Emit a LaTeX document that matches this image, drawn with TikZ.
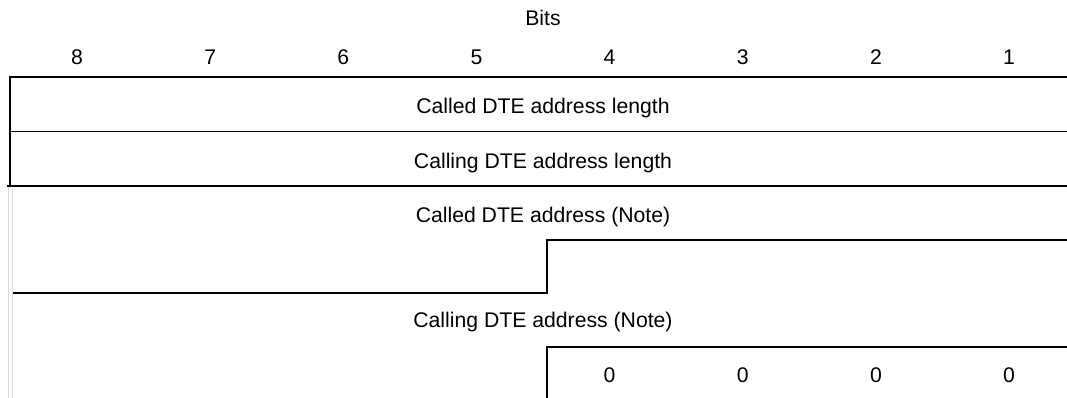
\documentclass[tikz,border=0pt]{standalone}
\usepackage{fontspec}
\setmainfont{Liberation Sans}
\tikzset{
  every node/.style = {
    inner sep = 0pt,
    outer sep = 0pt,
    anchor = base,
    font = \fontsize{21.2}{25}\selectfont
  }
}

\begin{document}
\begin{tikzpicture}[
      x = 1pt,
      y = -1pt,
      rule/.style = {
        line width = 1.8pt,
        black
      },
      margin rule/.style = {
        line width = 1.6pt,
        black!15
      },
      ]
      \useasboundingbox (0,0) rectangle (1067,398);
      % heading
      \node (bits) at (543,26) {Bits};
      \foreach \b [count=\i from 0] in {8,...,1}
        \node (bit-\b) at ({77+133.15*\i},65) {\b};
      % field texts
      \node (called-len)  at (543,114) {Called DTE address length};
      \node (calling-len) at (543,168) {Calling DTE address length};
      \node (called-adr)  at (543,222) {Called DTE address (Note)};
      \node (calling-adr) at (543,327) {Calling DTE address (Note)};
      \coordinate (zero-row) at (0,382);
      \foreach \b in {4,...,1}
        \node (zero-\b) at (bit-\b |- zero-row) {0};
      % frame
      \coordinate (step-a) at (547,240);
      \coordinate (step-b) at (547,347);
      \draw [rule] (10,186) -- (10,77) -- (1067,77);
      \draw [rule] (10,131.5) -- (1067,131.5);
      \draw [rule] (7,186) -- (1067,186);
      \draw [rule] (1067,240) -- (step-a) -- (547,293) -- (13,293);
      \draw [rule] (1067,347) -- (step-b) -- (547,398);
      \draw [margin rule] (8.3,187) -- (8.3,398);
      \draw [margin rule] (12.3,187) -- (12.3,398);
    \end{tikzpicture}
\end{document}
